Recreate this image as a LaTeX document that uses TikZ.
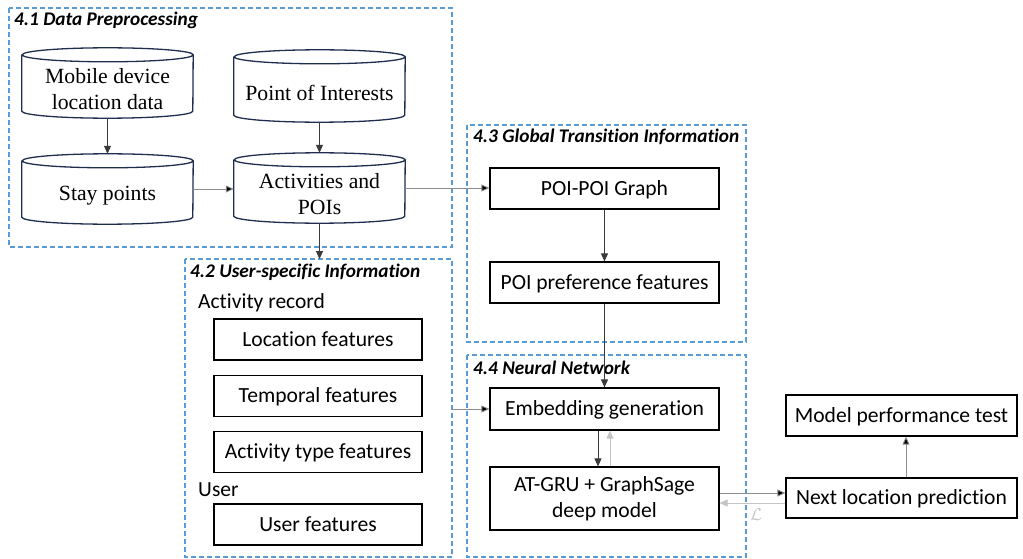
\documentclass[tikz,border=0pt]{standalone}
\usepackage{fontspec}
\setmainfont{Liberation Serif}
\newfontfamily\calib[Ligatures=NoCommon]{Carlito}
\usetikzlibrary{arrows.meta}
\definecolor{dashblue}{HTML}{5B9BD5}
\definecolor{navy}{HTML}{1F2D4F}
\definecolor{darkline}{HTML}{3A3A3A}
\definecolor{midgray}{HTML}{8C8C8C}
\definecolor{lightgray2}{HTML}{C4C4C4}
\begin{document}
\begin{tikzpicture}[x=1pt,y=1pt,
  section/.style={draw=dashblue,line width=1.2pt,dash pattern=on 5pt off 3pt},
  sectitle/.style={anchor=west,inner sep=0pt,font=\calib\bfseries\itshape\fontsize{19.3}{22}\selectfont},
  cylbox/.style={minimum width=171pt,inner sep=0pt,draw=none},
  cyltext/.style={align=center,inner sep=0pt,font=\fontsize{21.7}{26}\selectfont},
  cylline/.style={draw=navy,line width=1.3pt},
  procbox/.style={draw=black,line width=1.2pt,minimum width=229pt,minimum height=41pt,inner sep=0pt,align=center,font=\calib\fontsize{21.6}{26}\selectfont},
  oneline/.style={text height=16pt,text depth=3pt},
  featbox/.style={procbox,oneline,minimum width=208pt},
  plain/.style={anchor=west,inner sep=0pt,font=\calib\fontsize{21.5}{24}\selectfont},
  arr/.style={-{Triangle[length=8pt,width=7pt]},line width=0.9pt,draw=darkline},
  garr/.style={-{Triangle[length=8pt,width=7pt,fill=black]},line width=0.9pt,draw=midgray},
  larr/.style={-{Triangle[length=8pt,width=7pt]},line width=0.9pt,draw=lightgray2,color=lightgray2}
]
\useasboundingbox (0,0) rectangle (1023,-559);

% section frames
\draw[section] (9,-8) rectangle (452,-247);
\draw[section] (185,-259) rectangle (452,-557);
\draw[section] (467,-125) rectangle (746,-342);
\draw[section] (467,-355) rectangle (746,-557);
\node[sectitle] (t41) at (14,-20) {4.1 Data Preprocessing};
\node[sectitle] (t42) at (190,-272) {4.2 User-specific Information};
\node[sectitle] (t43) at (473,-137) {4.3 Global Transition Information};
\node[sectitle] (t44) at (473,-368) {4.4 Neural Network};

% cylinders
\node[cylbox,minimum height=70pt] (msd) at (107.5,-83) {};
\node[cylbox,minimum height=72pt] (poi) at (319.5,-86) {};
\node[cylbox,minimum height=70pt] (stay) at (107.5,-189) {};
\node[cylbox,minimum height=70pt] (act) at (319.5,-188) {};
\foreach \n in {msd,poi,stay,act}{
  \draw[cylline] ([yshift=-7pt]\n.north west) -- ([yshift=7pt]\n.south west)
     arc[start angle=180,end angle=360,x radius=85.5pt,y radius=7pt]
     -- ([yshift=-7pt]\n.north east)
     arc[start angle=0,end angle=360,x radius=85.5pt,y radius=7pt];
}
\node[cyltext] (msdt) at ([yshift=-6.5pt]msd.center) {Mobile device\\location data};
\node[cyltext] (poit) at ([yshift=-6.5pt]poi.center) {Point of Interests};
\node[cyltext] (stayt) at ([yshift=-6.5pt]stay.center) {Stay points};
\node[cyltext] (actt) at ([yshift=-6.5pt]act.center) {Activities and\\POIs};

% 4.3 boxes
\node[procbox,oneline] (graph) at (604.5,-188.5) {POI-POI Graph};
\node[procbox,oneline] (pref) at (604.5,-282.5) {POI preference features};

% 4.2 content
\node[plain] (actrec) at (198,-303) {Activity record};
\node[featbox] (loc) at (318,-339.5) {Location features};
\node[featbox] (temp) at (318,-396) {Temporal features};
\node[featbox] (atype) at (318,-452) {Activity type features};
\node[plain] (usr) at (198,-490) {User};
\node[featbox] (uf) at (318,-524.5) {User features};

% 4.4 boxes
\node[procbox,oneline,minimum height=42pt] (emb) at (604.5,-409) {Embedding generation};
\node[procbox,minimum height=63pt] (gru) at (604.5,-498.5) {AT-GRU + GraphSage\\deep model};

% outside boxes
\node[procbox,oneline,minimum width=231pt] (perf) at (901.5,-415.5) {Model performance test};
\node[procbox,oneline,minimum width=231pt,minimum height=40pt] (next) at (901.5,-498) {Next location prediction};

% connectors
\coordinate (f42top) at (319.5,-259);
\coordinate (f42right) at (452,-409);
\draw[arr] (msd.south) -- (stay.north);
\draw[arr] (poi.south) -- (act.north);
\draw[garr] (stay.east) -- (act.west|-stay.east);
\draw[garr] (act.east) -- (graph.west|-act.east);
\draw[arr] (act.south) -- (f42top);
\draw[arr] (graph.south) -- (pref.north);
\draw[arr] (pref.south) -- (emb.north);
\draw[garr] (f42right) -- (emb.west);
\draw[arr] ([xshift=-6.5pt]emb.south) -- ([xshift=-6.5pt]gru.north);
\draw[larr] ([xshift=5.5pt]gru.north) -- ([xshift=5.5pt]emb.south);
\draw[garr] (gru.east|-0,-493) -- (next.west|-0,-493);
\draw[larr] (next.west|-0,-503) -- (gru.east|-0,-503);
\node[text=lightgray2,inner sep=0pt,font=\fontsize{16}{18}\selectfont] (lossl) at (756,-515) {$\mathcal{L}$};
\draw[garr] (next.north-|906,0) -- (perf.south-|906,0);
\end{tikzpicture}
\end{document}
